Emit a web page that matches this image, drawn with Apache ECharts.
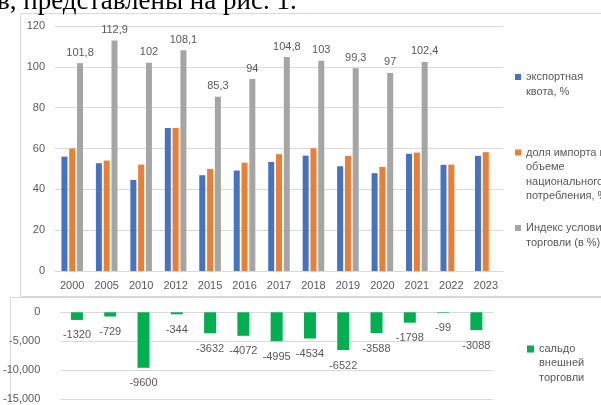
<!DOCTYPE html>
<html>
<head>
<meta charset="utf-8">
<script src="https://cdn.jsdelivr.net/npm/echarts@6/dist/echarts.min.js"></script>
<style>
  html, body { margin: 0; padding: 0; background: #fff; }
  #chart { width: 601px; height: 405px; }
</style>
</head>
<body>
<div id="chart"></div>
<script>
// Years on the category axis
const years = ['2000', '2005', '2010', '2012', '2015', '2016', '2017', '2018', '2019', '2020', '2021', '2022', '2023'];

// Upper panel, percent
const exportQuota  = [56.0, 52.8, 44.6, 70.0, 46.9, 49.2, 53.4, 56.5, 51.3, 47.9, 57.4, 52.0, 56.4];
const importShare  = [60.0, 54.1, 52.1, 70.0, 50.0, 53.1, 57.2, 60.1, 56.4, 51.0, 58.0, 52.1, 58.2];
const termsOfTrade = [101.8, 112.9, 102, 108.1, 85.3, 94, 104.8, 103, 99.3, 97, 102.4, null, null];

// Lower panel, trade balance
const tradeBalance = [-1320, -729, -9600, -344, -3632, -4072, -4995, -4534, -6522, -3588, -1798, -99, -3088];

// Series names and how they wrap in the legends
const seriesNames = [
  'экспортная квота, %',
  'доля импорта в объеме национального потребления, %',
  'Индекс условий торговли (в %)',
  'сальдо внешней торговли'
];
const legendLines = [
  ['экспортная', 'квота, %'],
  ['доля импорта в', 'объеме', 'национального', 'потребления, %'],
  ['Индекс условий', 'торговли (в %)'],
  ['сальдо', 'внешней', 'торговли']
];

const FONT = 'Liberation Sans, Arial, sans-serif';
const TXT = '#595959';
const GRID = '#d9d9d9';

// Legend text: blank lines above keep the marker level with the first line
function legendText(name) {
  const lines = legendLines[seriesNames.indexOf(name)];
  return '\n'.repeat(lines.length - 1) + lines.join('\n');
}
const commaDecimal = v => String(v).replace('.', ',');

const chart = echarts.init(document.getElementById('chart'), null, { renderer: 'canvas' });

chart.setOption({
  animation: false,
  backgroundColor: '#fff',
  textStyle: { fontFamily: FONT },
  graphic: [
    {
      type: 'text', left: -3, top: -12, z: 10,
      style: { text: 'в, представлены на рис. 1.', font: '27px "Liberation Serif", "Times New Roman", serif', fill: '#000' }
    },
    {
      type: 'rect', z: -5, silent: true,
      shape: { x: 20.5, y: 13.5, width: 620, height: 283 },
      style: { fill: 'none', stroke: GRID, lineWidth: 1 }
    },
    {
      type: 'rect', z: -5, silent: true,
      shape: { x: 10.5, y: 297.5, width: 620, height: 130 },
      style: { fill: 'none', stroke: GRID, lineWidth: 1 }
    }
  ],
  legend: [
    {
      data: seriesNames.slice(0, 3),
      orient: 'vertical', left: 510, top: 50.25,
      itemWidth: 6, itemHeight: 6, itemGap: 3, icon: 'rect',
      formatter: legendText,
      textStyle: { fontFamily: FONT, fontSize: 11, lineHeight: 14.5, color: TXT }
    },
    {
      data: [seriesNames[3]],
      orient: 'vertical', left: 522, top: 308.25,
      itemWidth: 7, itemHeight: 7, icon: 'rect',
      formatter: legendText,
      textStyle: { fontFamily: FONT, fontSize: 11, lineHeight: 14.3, color: TXT }
    }
  ],
  grid: [
    { left: 55, right: 98, top: 26, height: 245 },
    { left: 60, right: 108, top: 312.3, height: 86.7 }
  ],
  xAxis: [
    {
      gridIndex: 0, type: 'category', data: years,
      axisLine: { lineStyle: { color: GRID } },
      axisTick: { show: false },
      axisLabel: { color: TXT, fontSize: 11, margin: 9, fontFamily: FONT }
    },
    {
      gridIndex: 1, type: 'category', data: years,
      axisLine: { show: false }, axisTick: { show: false }, axisLabel: { show: false }
    }
  ],
  yAxis: [
    {
      gridIndex: 0, type: 'value', min: 0, max: 120, interval: 20,
      axisLine: { show: false }, axisTick: { show: false },
      splitLine: { lineStyle: { color: GRID } },
      axisLabel: { color: TXT, fontSize: 11, margin: 10, fontFamily: FONT }
    },
    {
      gridIndex: 1, type: 'value', min: -15000, max: 0, interval: 5000,
      axisLine: { show: false }, axisTick: { show: false },
      splitLine: { lineStyle: { color: GRID } },
      axisLabel: { color: TXT, fontSize: 11, margin: 20, fontFamily: FONT }
    }
  ],
  series: [
    {
      name: seriesNames[0], type: 'bar', xAxisIndex: 0, yAxisIndex: 0,
      data: exportQuota, barWidth: 6, barGap: '30%',
      itemStyle: { color: '#4472C4' }
    },
    {
      name: seriesNames[1], type: 'bar', xAxisIndex: 0, yAxisIndex: 0,
      data: importShare, barWidth: 6, barGap: '30%',
      itemStyle: { color: '#ED7D31' }
    },
    {
      name: seriesNames[2], type: 'bar', xAxisIndex: 0, yAxisIndex: 0,
      data: termsOfTrade, barWidth: 6, barGap: '30%',
      itemStyle: { color: '#A5A5A5' },
      label: {
        show: true, position: 'top', distance: 5,
        color: TXT, fontSize: 11, fontFamily: FONT,
        formatter: p => commaDecimal(p.value)
      }
    },
    {
      name: seriesNames[3], type: 'bar', xAxisIndex: 1, yAxisIndex: 1,
      data: tradeBalance, barWidth: 12,
      itemStyle: { color: '#00B050' },
      label: {
        show: true, position: 'bottom', distance: 10,
        color: TXT, fontSize: 11, fontFamily: FONT
      }
    }
  ]
});
</script>
</body>
</html>
